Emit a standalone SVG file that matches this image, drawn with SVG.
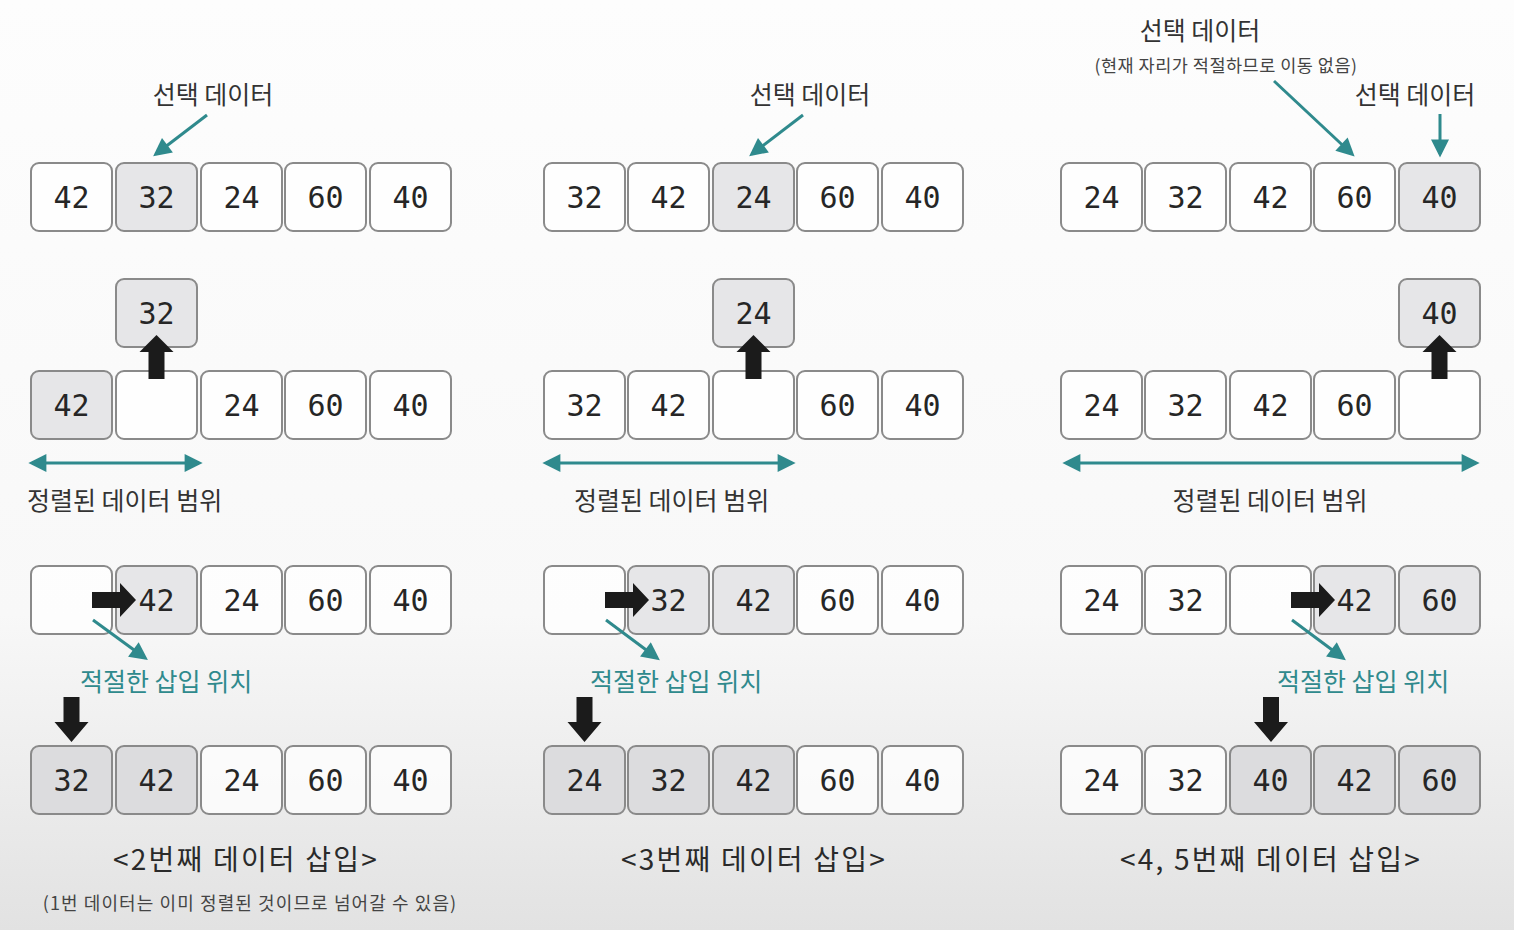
<svg xmlns="http://www.w3.org/2000/svg" width="1514" height="930" viewBox="0 0 1514 930">
<defs>
<linearGradient id="bg" x1="0" y1="0" x2="0" y2="1">
<stop offset="0" stop-color="#fdfdfd"/>
<stop offset="0.66" stop-color="#f8f8f8"/>
<stop offset="1" stop-color="#e2e2e2"/>
</linearGradient>
<marker id="th" viewBox="0 0 10 10" refX="8" refY="5" markerWidth="20" markerHeight="18" markerUnits="userSpaceOnUse" orient="auto-start-reverse">
<path d="M0,0 L10,5 L0,10 Z" fill="#2f8a8d"/>
</marker>
</defs>
<style>
.b{fill:#fff;fill-opacity:0.75;stroke:#8a8a8a;stroke-width:2}
.g{fill:#e6e6e8;stroke:#8a8a8a;stroke-width:2}
.gd{fill:#dcdcde;stroke:#8a8a8a;stroke-width:2}
.n{font-family:"DejaVu Sans Mono",monospace;font-size:30px;fill:#262626;text-anchor:middle}
.k{font-family:"Noto Sans CJK KR","Noto Sans",sans-serif;font-size:25px;fill:#333}
.ks{font-family:"Noto Sans CJK KR","Noto Sans",sans-serif;font-size:18px;fill:#444;letter-spacing:1.1px}
.ks2{font-family:"Noto Sans CJK KR","Noto Sans",sans-serif;font-size:17.5px;fill:#444;letter-spacing:0.5px}
.kt{font-family:"Noto Sans CJK KR","Noto Sans",sans-serif;font-size:25px;fill:#2f8a8d}
.cap{font-family:"Noto Sans CJK KR","Noto Sans",sans-serif;font-size:28px;fill:#2a2a2a;text-anchor:middle;letter-spacing:2.2px}
.tl{stroke:#2f8a8d;stroke-width:3;fill:none;marker-end:url(#th)}
.tl2{stroke:#2f8a8d;stroke-width:3;fill:none;marker-end:url(#th);marker-start:url(#th)}
.ba{fill:#1b1b1b}
</style>
<rect width="1514" height="930" fill="url(#bg)"/>

<!-- ===== Column 1 ===== -->
<g id="c1r1">
<g id="c1r1b1"><rect class="b" x="31" y="163" width="81" height="68" rx="8"/><text class="n" x="71.5" y="208">42</text></g>
<g id="c1r1b2"><rect class="g" x="116" y="163" width="81" height="68" rx="8"/><text class="n" x="156.5" y="208">32</text></g>
<g id="c1r1b3"><rect class="b" x="201" y="163" width="81" height="68" rx="8"/><text class="n" x="241.5" y="208">24</text></g>
<g id="c1r1b4"><rect class="b" x="285" y="163" width="81" height="68" rx="8"/><text class="n" x="325.5" y="208">60</text></g>
<g id="c1r1b5"><rect class="b" x="370" y="163" width="81" height="68" rx="8"/><text class="n" x="410.5" y="208">40</text></g>
</g>
<g id="c1pop"><rect class="g" x="116" y="279" width="81" height="68" rx="8"/><text class="n" x="156.5" y="324">32</text></g>
<g id="c1r2">
<g id="c1r2b1"><rect class="g" x="31" y="371" width="81" height="68" rx="8"/><text class="n" x="71.5" y="416">42</text></g>
<g id="c1r2b2"><rect class="b" x="116" y="371" width="81" height="68" rx="8"/></g>
<g id="c1r2b3"><rect class="b" x="201" y="371" width="81" height="68" rx="8"/><text class="n" x="241.5" y="416">24</text></g>
<g id="c1r2b4"><rect class="b" x="285" y="371" width="81" height="68" rx="8"/><text class="n" x="325.5" y="416">60</text></g>
<g id="c1r2b5"><rect class="b" x="370" y="371" width="81" height="68" rx="8"/><text class="n" x="410.5" y="416">40</text></g>
</g>
<g id="c1r3">
<g id="c1r3b1"><rect class="b" x="31" y="566" width="81" height="68" rx="8"/></g>
<g id="c1r3b2"><rect class="g" x="116" y="566" width="81" height="68" rx="8"/><text class="n" x="156.5" y="611">42</text></g>
<g id="c1r3b3"><rect class="b" x="201" y="566" width="81" height="68" rx="8"/><text class="n" x="241.5" y="611">24</text></g>
<g id="c1r3b4"><rect class="b" x="285" y="566" width="81" height="68" rx="8"/><text class="n" x="325.5" y="611">60</text></g>
<g id="c1r3b5"><rect class="b" x="370" y="566" width="81" height="68" rx="8"/><text class="n" x="410.5" y="611">40</text></g>
</g>
<g id="c1r4">
<g id="c1r4b1"><rect class="gd" x="31" y="746" width="81" height="68" rx="8"/><text class="n" x="71.5" y="791">32</text></g>
<g id="c1r4b2"><rect class="gd" x="116" y="746" width="81" height="68" rx="8"/><text class="n" x="156.5" y="791">42</text></g>
<g id="c1r4b3"><rect class="b" x="201" y="746" width="81" height="68" rx="8"/><text class="n" x="241.5" y="791">24</text></g>
<g id="c1r4b4"><rect class="b" x="285" y="746" width="81" height="68" rx="8"/><text class="n" x="325.5" y="791">60</text></g>
<g id="c1r4b5"><rect class="b" x="370" y="746" width="81" height="68" rx="8"/><text class="n" x="410.5" y="791">40</text></g>
</g>
<g id="c1labels">
<text class="k" x="213" y="104" text-anchor="middle">선택 데이터</text>
<text class="k" x="27" y="510">정렬된 데이터 범위</text>
<text class="kt" x="80" y="691">적절한 삽입 위치</text>
<text class="cap" x="246" y="870">&lt;2번째 데이터 삽입&gt;</text>
<text class="ks" x="250" y="910" text-anchor="middle">(1번 데이터는 이미 정렬된 것이므로 넘어갈 수 있음)</text>
</g>

<!-- ===== Column 2 ===== -->
<g id="c2r1">
<g id="c2r1b1"><rect class="b" x="544" y="163" width="81" height="68" rx="8"/><text class="n" x="584.5" y="208">32</text></g>
<g id="c2r1b2"><rect class="b" x="628" y="163" width="81" height="68" rx="8"/><text class="n" x="668.5" y="208">42</text></g>
<g id="c2r1b3"><rect class="g" x="713" y="163" width="81" height="68" rx="8"/><text class="n" x="753.5" y="208">24</text></g>
<g id="c2r1b4"><rect class="b" x="797" y="163" width="81" height="68" rx="8"/><text class="n" x="837.5" y="208">60</text></g>
<g id="c2r1b5"><rect class="b" x="882" y="163" width="81" height="68" rx="8"/><text class="n" x="922.5" y="208">40</text></g>
</g>
<g id="c2pop"><rect class="g" x="713" y="279" width="81" height="68" rx="8"/><text class="n" x="753.5" y="324">24</text></g>
<g id="c2r2">
<g id="c2r2b1"><rect class="b" x="544" y="371" width="81" height="68" rx="8"/><text class="n" x="584.5" y="416">32</text></g>
<g id="c2r2b2"><rect class="b" x="628" y="371" width="81" height="68" rx="8"/><text class="n" x="668.5" y="416">42</text></g>
<g id="c2r2b3"><rect class="b" x="713" y="371" width="81" height="68" rx="8"/></g>
<g id="c2r2b4"><rect class="b" x="797" y="371" width="81" height="68" rx="8"/><text class="n" x="837.5" y="416">60</text></g>
<g id="c2r2b5"><rect class="b" x="882" y="371" width="81" height="68" rx="8"/><text class="n" x="922.5" y="416">40</text></g>
</g>
<g id="c2r3">
<g id="c2r3b1"><rect class="b" x="544" y="566" width="81" height="68" rx="8"/></g>
<g id="c2r3b2"><rect class="g" x="628" y="566" width="81" height="68" rx="8"/><text class="n" x="668.5" y="611">32</text></g>
<g id="c2r3b3"><rect class="g" x="713" y="566" width="81" height="68" rx="8"/><text class="n" x="753.5" y="611">42</text></g>
<g id="c2r3b4"><rect class="b" x="797" y="566" width="81" height="68" rx="8"/><text class="n" x="837.5" y="611">60</text></g>
<g id="c2r3b5"><rect class="b" x="882" y="566" width="81" height="68" rx="8"/><text class="n" x="922.5" y="611">40</text></g>
</g>
<g id="c2r4">
<g id="c2r4b1"><rect class="gd" x="544" y="746" width="81" height="68" rx="8"/><text class="n" x="584.5" y="791">24</text></g>
<g id="c2r4b2"><rect class="gd" x="628" y="746" width="81" height="68" rx="8"/><text class="n" x="668.5" y="791">32</text></g>
<g id="c2r4b3"><rect class="gd" x="713" y="746" width="81" height="68" rx="8"/><text class="n" x="753.5" y="791">42</text></g>
<g id="c2r4b4"><rect class="b" x="797" y="746" width="81" height="68" rx="8"/><text class="n" x="837.5" y="791">60</text></g>
<g id="c2r4b5"><rect class="b" x="882" y="746" width="81" height="68" rx="8"/><text class="n" x="922.5" y="791">40</text></g>
</g>
<g id="c2labels">
<text class="k" x="810" y="104" text-anchor="middle">선택 데이터</text>
<text class="k" x="574" y="510">정렬된 데이터 범위</text>
<text class="kt" x="590" y="691">적절한 삽입 위치</text>
<text class="cap" x="754" y="870">&lt;3번째 데이터 삽입&gt;</text>
</g>

<!-- ===== Column 3 ===== -->
<g id="c3r1">
<g id="c3r1b1"><rect class="b" x="1061" y="163" width="81" height="68" rx="8"/><text class="n" x="1101.5" y="208">24</text></g>
<g id="c3r1b2"><rect class="b" x="1145" y="163" width="81" height="68" rx="8"/><text class="n" x="1185.5" y="208">32</text></g>
<g id="c3r1b3"><rect class="b" x="1230" y="163" width="81" height="68" rx="8"/><text class="n" x="1270.5" y="208">42</text></g>
<g id="c3r1b4"><rect class="b" x="1314" y="163" width="81" height="68" rx="8"/><text class="n" x="1354.5" y="208">60</text></g>
<g id="c3r1b5"><rect class="g" x="1399" y="163" width="81" height="68" rx="8"/><text class="n" x="1439.5" y="208">40</text></g>
</g>
<g id="c3pop"><rect class="g" x="1399" y="279" width="81" height="68" rx="8"/><text class="n" x="1439.5" y="324">40</text></g>
<g id="c3r2">
<g id="c3r2b1"><rect class="b" x="1061" y="371" width="81" height="68" rx="8"/><text class="n" x="1101.5" y="416">24</text></g>
<g id="c3r2b2"><rect class="b" x="1145" y="371" width="81" height="68" rx="8"/><text class="n" x="1185.5" y="416">32</text></g>
<g id="c3r2b3"><rect class="b" x="1230" y="371" width="81" height="68" rx="8"/><text class="n" x="1270.5" y="416">42</text></g>
<g id="c3r2b4"><rect class="b" x="1314" y="371" width="81" height="68" rx="8"/><text class="n" x="1354.5" y="416">60</text></g>
<g id="c3r2b5"><rect class="b" x="1399" y="371" width="81" height="68" rx="8"/></g>
</g>
<g id="c3r3">
<g id="c3r3b1"><rect class="b" x="1061" y="566" width="81" height="68" rx="8"/><text class="n" x="1101.5" y="611">24</text></g>
<g id="c3r3b2"><rect class="b" x="1145" y="566" width="81" height="68" rx="8"/><text class="n" x="1185.5" y="611">32</text></g>
<g id="c3r3b3"><rect class="b" x="1230" y="566" width="81" height="68" rx="8"/></g>
<g id="c3r3b4"><rect class="g" x="1314" y="566" width="81" height="68" rx="8"/><text class="n" x="1354.5" y="611">42</text></g>
<g id="c3r3b5"><rect class="g" x="1399" y="566" width="81" height="68" rx="8"/><text class="n" x="1439.5" y="611">60</text></g>
</g>
<g id="c3r4">
<g id="c3r4b1"><rect class="b" x="1061" y="746" width="81" height="68" rx="8"/><text class="n" x="1101.5" y="791">24</text></g>
<g id="c3r4b2"><rect class="b" x="1145" y="746" width="81" height="68" rx="8"/><text class="n" x="1185.5" y="791">32</text></g>
<g id="c3r4b3"><rect class="gd" x="1230" y="746" width="81" height="68" rx="8"/><text class="n" x="1270.5" y="791">40</text></g>
<g id="c3r4b4"><rect class="gd" x="1314" y="746" width="81" height="68" rx="8"/><text class="n" x="1354.5" y="791">42</text></g>
<g id="c3r4b5"><rect class="gd" x="1399" y="746" width="81" height="68" rx="8"/><text class="n" x="1439.5" y="791">60</text></g>
</g>
<g id="c3labels">
<text class="k" x="1200" y="40" text-anchor="middle">선택 데이터</text>
<text class="ks2" x="1226" y="72" text-anchor="middle">(현재 자리가 적절하므로 이동 없음)</text>
<text class="k" x="1415" y="104" text-anchor="middle">선택 데이터</text>
<text class="k" x="1270" y="510" text-anchor="middle">정렬된 데이터 범위</text>
<text class="kt" x="1277" y="691">적절한 삽입 위치</text>
<text class="cap" x="1271" y="870">&lt;4, 5번째 데이터 삽입&gt;</text>
</g>

<!-- ===== Connectors ===== -->
<g id="connectors">
<line class="tl" x1="207" y1="115" x2="156" y2="154"/>
<line class="tl" x1="803" y1="115" x2="752" y2="154"/>
<line class="tl" x1="1274" y1="81" x2="1352" y2="154"/>
<line class="tl" x1="1440" y1="114" x2="1440" y2="154"/>
<line class="tl2" x1="32" y1="463" x2="199" y2="463"/>
<line class="tl2" x1="546" y1="463" x2="792" y2="463"/>
<line class="tl2" x1="1066" y1="463" x2="1476" y2="463"/>
<line class="tl" x1="93" y1="620" x2="145" y2="658"/>
<line class="tl" x1="606" y1="620" x2="657" y2="658"/>
<line class="tl" x1="1292" y1="620" x2="1343" y2="658"/>
<path class="ba" d="M156.5,335 L173.5,352 L164.5,352 L164.5,379 L148.5,379 L148.5,352 L139.5,352 Z"/>
<path class="ba" d="M753.5,335 L770.5,352 L761.5,352 L761.5,379 L745.5,379 L745.5,352 L736.5,352 Z"/>
<path class="ba" d="M1439.5,335 L1456.5,352 L1447.5,352 L1447.5,379 L1431.5,379 L1431.5,352 L1422.5,352 Z"/>
<path class="ba" d="M136,600 L120,583 L120,592 L92,592 L92,608 L120,608 L120,617 Z"/>
<path class="ba" d="M649,600 L633,583 L633,592 L605,592 L605,608 L633,608 L633,617 Z"/>
<path class="ba" d="M1335,600 L1319,583 L1319,592 L1291,592 L1291,608 L1319,608 L1319,617 Z"/>
<path class="ba" d="M71.5,742 L54.5,722 L63.5,722 L63.5,697 L79.5,697 L79.5,722 L88.5,722 Z"/>
<path class="ba" d="M584.5,742 L567.5,722 L576.5,722 L576.5,697 L592.5,697 L592.5,722 L601.5,722 Z"/>
<path class="ba" d="M1271,742 L1254,722 L1263,722 L1263,697 L1279,697 L1279,722 L1288,722 Z"/>
</g>
</svg>
